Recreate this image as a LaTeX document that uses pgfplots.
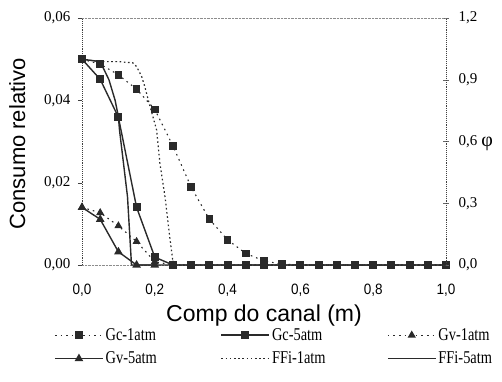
\documentclass[border=0pt]{standalone}
\usepackage{fontspec}
\setmainfont{Liberation Sans}
\newfontfamily\serifc{Liberation Serif}
\newfontfamily\legfont[FakeStretch=0.8]{Liberation Serif}
\newfontfamily\sansc[FakeStretch=0.9]{Liberation Sans}
\usepackage{pgfplots}
\pgfplotsset{compat=1.18}
\definecolor{ink}{HTML}{2A2A2A}
\pgfplotsset{
  gc1/.style={color=ink, line width=1.1pt, dash pattern=on 1.6pt off 4pt, mark=square*, mark size=3.3pt, mark options={solid, fill=ink}},
  gc5/.style={color=ink, line width=1.4pt, solid, mark=square*, mark size=3.3pt, mark options={solid, fill=ink}},
  gv1/.style={color=ink, line width=1.1pt, dash pattern=on 1.6pt off 4pt, mark=triangle*, mark size=3.6pt, mark options={solid, fill=ink}},
  gv5/.style={color=ink, line width=1.4pt, solid, mark=triangle*, mark size=3.6pt, mark options={solid, fill=ink}},
  ff1/.style={color=ink, line width=1.2pt, dash pattern=on 1.6pt off 2.6pt, mark=none},
  ff5/.style={color=ink, line width=1.4pt, solid, mark=none},
}
\begin{document}
\begin{tikzpicture}
\useasboundingbox (-82pt,-116pt) rectangle (420pt,265pt);
\begin{axis}[
  at={(0pt,0pt)}, anchor=south west,
  scale only axis, width=364pt, height=247pt,
  xmin=0, xmax=1, ymin=0, ymax=0.06,
  clip=false,
  scaled y ticks=false, scaled x ticks=false,
  axis x line*=bottom, axis y line*=left,
  axis line style={-},
  x axis line style={black!45, densely dotted},
  y axis line style={black!75, densely dotted, line width=0.9pt},
  xtick={0,0.2,0.4,0.6,0.8,1},
  ytick={0,0.02,0.04,0.06},
  xticklabel style={/pgf/number format/fixed, /pgf/number format/fixed zerofill, /pgf/number format/precision=1, /pgf/number format/use comma, /pgf/number format/assume math mode=true, font=\sansc\fontsize{15}{17}\selectfont, yshift=-11pt},
  yticklabel style={/pgf/number format/fixed, /pgf/number format/fixed zerofill, /pgf/number format/precision=2, /pgf/number format/use comma, /pgf/number format/assume math mode=true, font=\serifc\fontsize{15}{17}\selectfont, xshift=-4pt},
  xtick style={draw=none},
  major tick length=4pt,
  tick align=outside,
  ytick style={black!75},
  xlabel={Comp do canal (m)},
  ylabel={Consumo relativo},
  xlabel style={font=\fontsize{23}{26}\selectfont, at={(axis description cs:0.5,-0.2065)}, anchor=center},
  ylabel style={font=\fontsize{22}{25}\selectfont, at={(axis description cs:-0.178,0.49)}, anchor=center},
]
\addplot[gv1] coordinates {(0,0.0140)(0.05,0.0127)(0.1,0.0095)(0.15,0.0057)(0.2,0.0008)(0.25,0)};
\addplot[gv5] coordinates {(0,0.0140)(0.05,0.0111)(0.1,0.0032)(0.15,0)(0.2,0)};
\addplot[gc1] coordinates {(0,0.0500)(0.05,0.0488)(0.1,0.0462)(0.15,0.0427)(0.2,0.0378)(0.25,0.0289)(0.3,0.0189)(0.35,0.0111)(0.4,0.0061)(0.45,0.0028)(0.5,0.0010)(0.55,0.0002)(0.6,0)(0.65,0)(0.7,0)(0.75,0)(0.8,0)(0.85,0)(0.9,0)(0.95,0)(1.0,0)};
\addplot[gc5] coordinates {(0,0.0500)(0.05,0.0451)(0.1,0.0359)(0.15,0.0140)(0.2,0.0019)(0.25,0)(0.3,0)(0.35,0)(0.4,0)(0.45,0)(0.5,0)(0.55,0)(0.6,0)(0.65,0)(0.7,0)(0.75,0)(0.8,0)(0.85,0)(0.9,0)(0.95,0)(1.0,0)};
\end{axis}
\begin{axis}[
  at={(0pt,0pt)}, anchor=south west,
  scale only axis, width=364pt, height=247pt,
  xmin=0, xmax=1, ymin=0, ymax=1.2,
  scaled y ticks=false,
  axis x line*=top, axis y line*=right,
  axis line style={-},
  x axis line style={black!45, densely dotted},
  y axis line style={black!75, densely dotted, line width=0.9pt},
  xtick=\empty,
  ytick={0,0.3,0.6,0.9,1.2},
  yticklabel style={/pgf/number format/fixed, /pgf/number format/fixed zerofill, /pgf/number format/precision=1, /pgf/number format/use comma, /pgf/number format/assume math mode=true, font=\serifc\fontsize{15}{17}\selectfont, xshift=6pt},
  major tick length=6pt,
  tick align=center,
  ytick style={black!60},
  ylabel={φ},
  ylabel style={font=\serifc\fontsize{20}{22}\selectfont, at={(axis description cs:1.113,0.49)}, anchor=center, rotate=-90},
  legend columns=3,
  legend cell align=left,
  legend image code/.code={\draw[mark repeat=2,mark phase=2,#1] plot coordinates {(0pt,0pt)(24pt,0pt)(48pt,0pt)};},
  legend style={draw=none, fill=none, at={(axis description cs:-0.085,-0.24)}, anchor=north west,
    font=\legfont\fontsize{18}{20}\selectfont, nodes={inner sep=2pt}, row sep=6pt,
    /tikz/every even column/.append style={column sep=55pt}},
]
\addlegendimage{gc1}\addlegendentry{\makebox[58pt][l]{Gc-1atm}}
\addlegendimage{gc5}\addlegendentry{\makebox[58pt][l]{Gc-5atm}}
\addlegendimage{gv1}\addlegendentry{\makebox[58pt][l]{Gv-1atm}}
\addlegendimage{gv5}\addlegendentry{\makebox[58pt][l]{Gv-5atm}}
\addplot[ff1] coordinates {(0,1.0)(0.05,0.988)(0.1,0.988)(0.14,0.982)(0.15,0.964)(0.164,0.915)(0.173,0.864)(0.182,0.802)(0.205,0.656)(0.214,0.494)(0.228,0.332)(0.242,0.122)(0.251,0)(0.5,0)(1.0,0)};
\addlegendentry{\makebox[58pt][l]{FFi-1atm}}
\addplot[ff5] coordinates {(0,1.0)(0.05,0.988)(0.074,0.90)(0.091,0.80)(0.1,0.72)(0.103,0.656)(0.125,0.332)(0.136,0)(0.5,0)(1.0,0)};
\addlegendentry{\makebox[58pt][l]{FFi-5atm}}
\end{axis}
\end{tikzpicture}
\end{document}
